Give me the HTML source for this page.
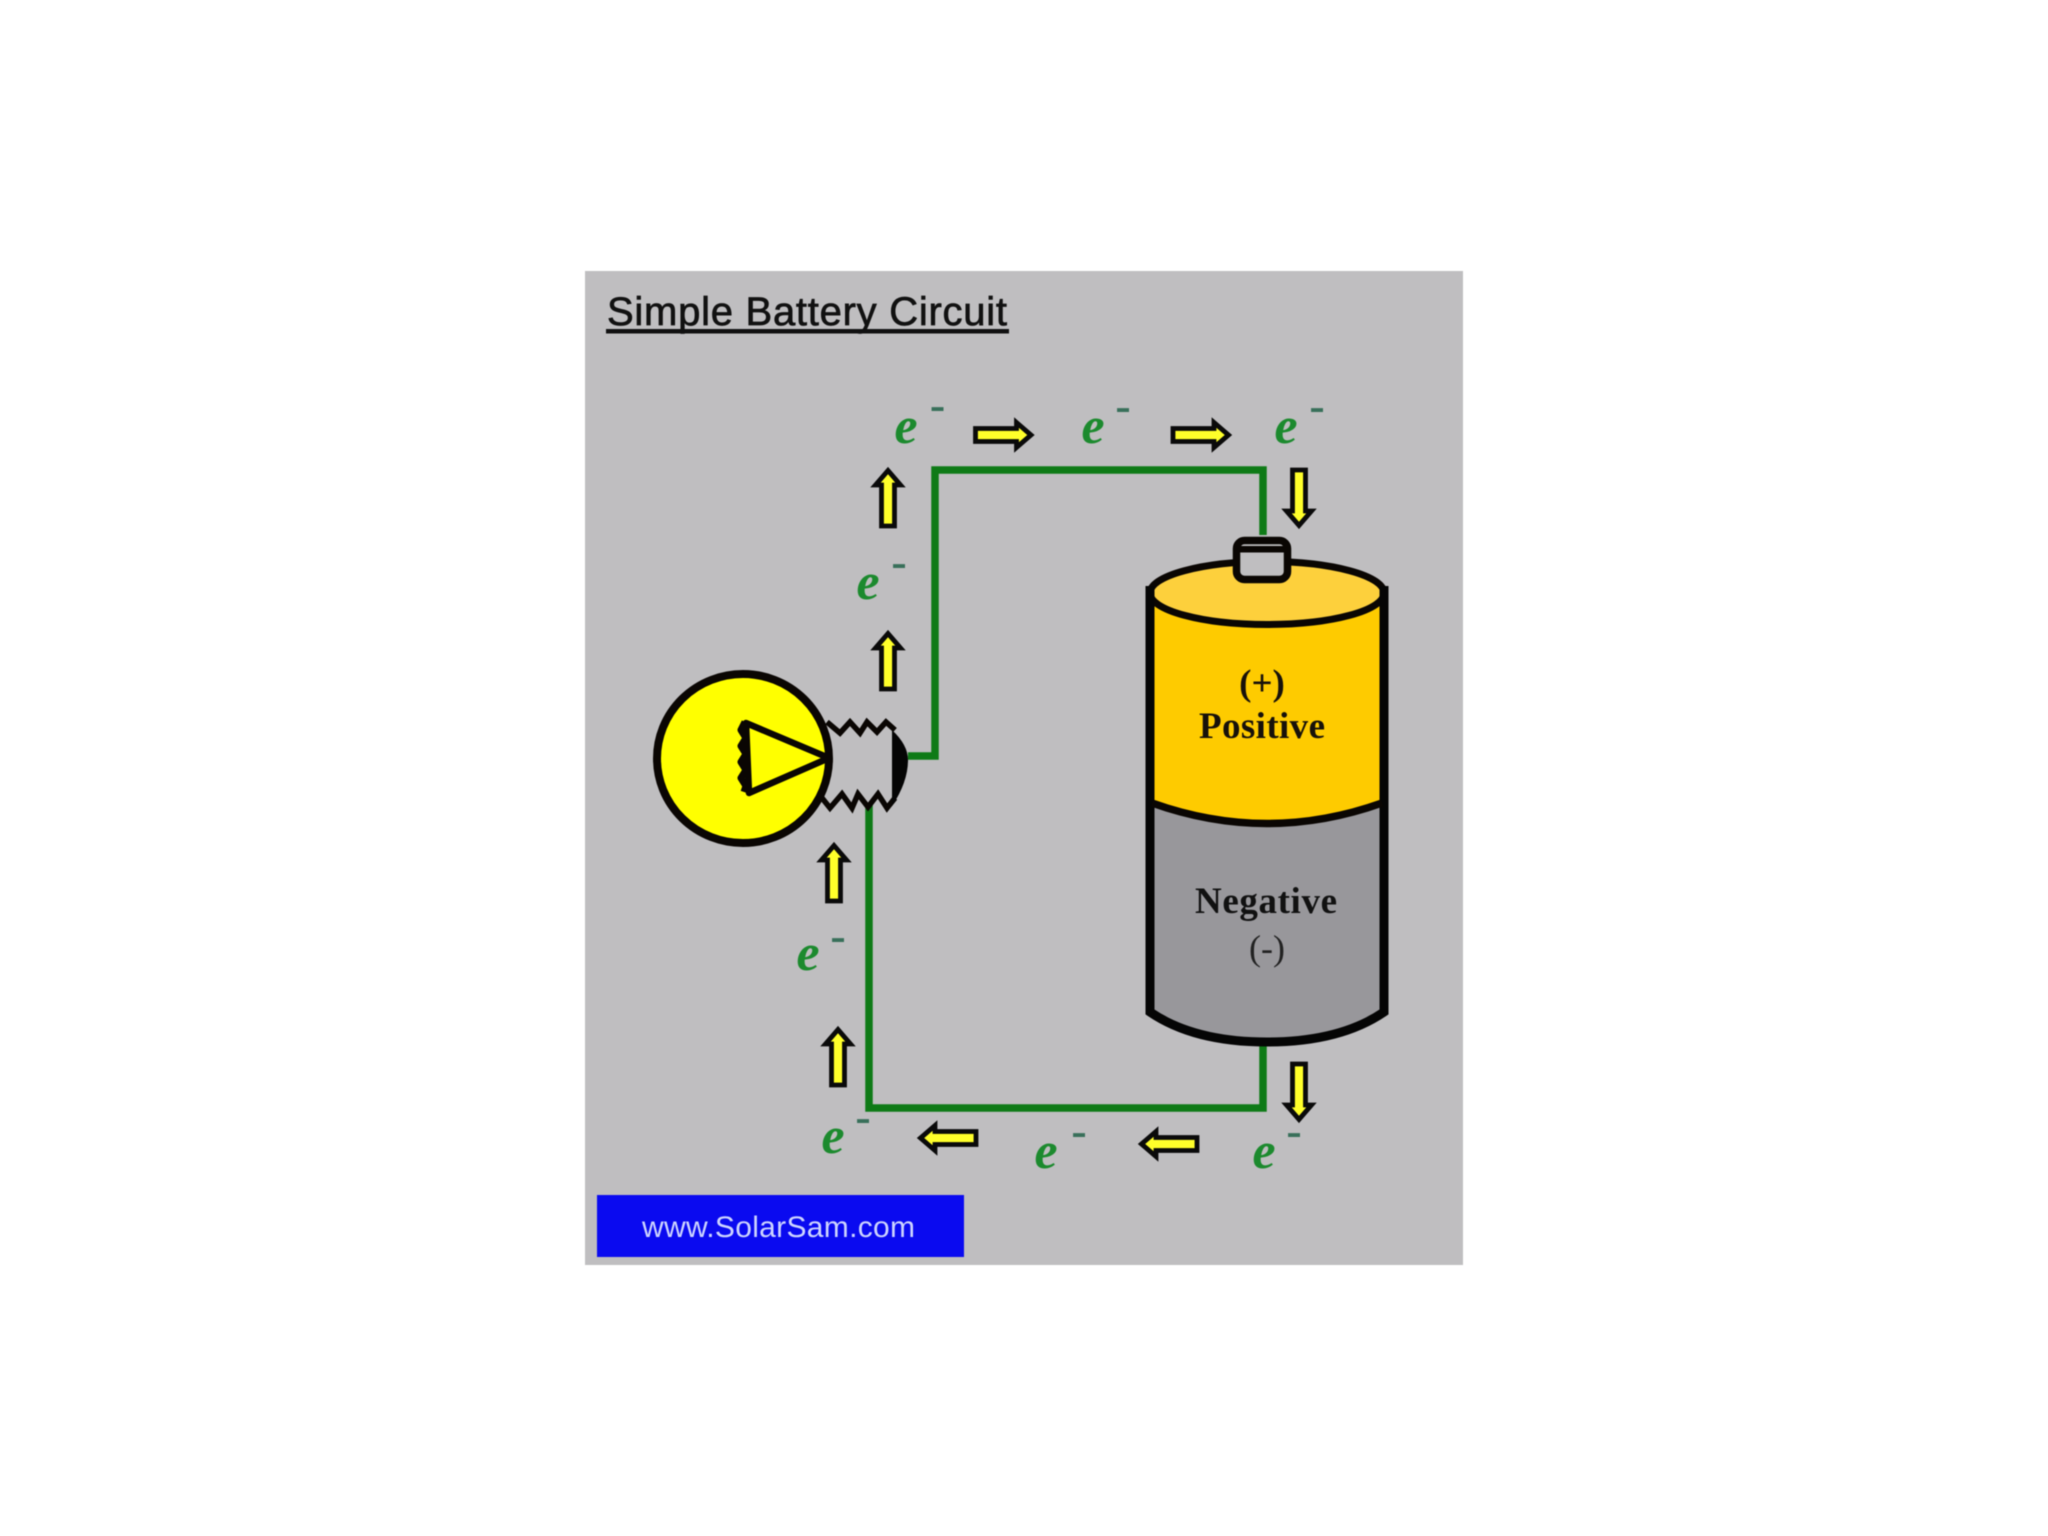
<!DOCTYPE html>
<html lang="en">
<head>
<meta charset="utf-8">
<title>Simple Battery Circuit</title>
<style>
html,body{margin:0;padding:0;background:#fff;width:2048px;height:1536px;overflow:hidden}
svg{display:block;filter:blur(.5px)}
.e{font:italic bold 52px "Liberation Serif",serif;fill:#1c8a2e}
.d{font:bold 46px "Liberation Serif",serif;fill:#38705a;text-anchor:middle}
.l{font-family:"Liberation Serif",serif;fill:#17110a;text-anchor:middle}
</style>
</head>
<body>
<svg width="2048" height="1536" viewBox="0 0 2048 1536" xmlns="http://www.w3.org/2000/svg">
<defs>
<polygon id="ar" points="-28,-6.5 13,-6.5 13,-12.5 27.5,0 13,12.5 13,6.5 -28,6.5" fill="#ffff2a" stroke="#0a0a0a" stroke-width="4.8" stroke-miterlimit="6"/>
</defs>
<rect width="2048" height="1536" fill="#fff"/>
<rect x="585" y="271" width="878" height="994" fill="#bfbec0"/>

<!-- Title -->
<text x="607" y="325" font-family="'Liberation Sans',sans-serif" font-size="40" fill="#111" stroke="#111" stroke-width=".7" textLength="400" lengthAdjust="spacing">Simple Battery Circuit</text>
<rect x="606" y="329" width="403" height="4.500" fill="#111"/>

<!-- Wires -->
<path d="M908 756H935V470H1263V535" fill="none" stroke="#0e7a16" stroke-width="7.500" stroke-linejoin="miter"/>
<path d="M1263 1043V1108H869V805" fill="none" stroke="#0e7a16" stroke-width="7.500"/>

<!-- Battery -->
<path d="M1150 592V803Q1267 846 1384 803V592Z" fill="#fecb00"/>
<path d="M1150 803Q1267 846 1384 803V1012Q1340 1042 1267 1042Q1194 1042 1150 1012Z" fill="#98979b"/>
<ellipse cx="1267" cy="593" rx="117" ry="31.500" fill="#fdd03c" stroke="#0a0603" stroke-width="7"/>
<path d="M1150 586V1012Q1194 1042 1267 1042Q1340 1042 1384 1012V586" fill="none" stroke="#050505" stroke-width="9"/>
<path d="M1152 803Q1267 844 1382 803" fill="none" stroke="#0a0603" stroke-width="7.500"/>
<rect x="1236.500" y="540.500" width="51" height="39" rx="8" fill="#bfbec0" stroke="#0a0603" stroke-width="7.500"/>
<rect x="1237" y="546" width="50" height="6.500" fill="#0a0603"/>

<text class="l" x="1262" y="695" font-size="37" font-weight="bold">(+)</text>
<text class="l" x="1262" y="738" font-size="37" font-weight="bold" textLength="126" lengthAdjust="spacing">Positive</text>
<text class="l" x="1266" y="913" font-size="37" font-weight="bold" textLength="142" lengthAdjust="spacing" style="fill:#111">Negative</text>
<text class="l" x="1267" y="960" font-size="36" style="fill:#222">(-)</text>

<!-- Bulb screw base -->
<polygon points="827,722 840,733 850,722 860,733 867,722 877,732 886,722 895,730 903,758 895,798 887,808 878,794 868,808 858,794 851,808 840,794 830,808 822,798" fill="#bfbec0"/>
<polyline points="827,722 840,733 850,722 860,733 867,722 877,732 886,722 895,730" fill="none" stroke="#0a0603" stroke-width="5.500"/>
<polyline points="822,798 830,808 842,794 852,808 858,794 868,807 878,794 887,808 895,798" fill="none" stroke="#0a0603" stroke-width="5.500"/>
<path d="M892 730Q908 745 908 760Q908 782 892 806Z" fill="#050505"/>

<!-- Bulb -->
<ellipse cx="743" cy="758.500" rx="86" ry="84.500" fill="#ffff00" stroke="#0a0603" stroke-width="8"/>
<polygon points="746,723 829,758 749,793" fill="none" stroke="#0a0603" stroke-width="6.500" stroke-linejoin="round"/>
<polyline points="745,722 741,730 746,738 741,746 746,754 741,762 746,770 741,778 746,786 744,792" fill="none" stroke="#0a0603" stroke-width="7" stroke-linejoin="round"/>

<!-- Arrows -->
<use href="#ar" transform="translate(1003.500 435)"/>
<use href="#ar" transform="translate(1201 435)"/>
<use href="#ar" transform="translate(1299 498) rotate(90)"/>
<use href="#ar" transform="translate(1299 1092) rotate(90)"/>
<use href="#ar" transform="translate(888 498) rotate(-90)"/>
<use href="#ar" transform="translate(888 661) rotate(-90)"/>
<use href="#ar" transform="translate(834 873) rotate(-90)"/>
<use href="#ar" transform="translate(838 1057) rotate(-90)"/>
<use href="#ar" transform="translate(948 1138) rotate(180)"/>
<use href="#ar" transform="translate(1169 1144) rotate(180)"/>

<!-- Electrons -->
<text class="e" x="894.500" y="443">e</text><text class="d" x="937.500" y="420">-</text>
<text class="e" x="1081.500" y="443">e</text><text class="d" x="1123" y="421">-</text>
<text class="e" x="1274.500" y="443">e</text><text class="d" x="1317" y="421">-</text>
<text class="e" x="856.500" y="599">e</text><text class="d" x="899" y="577">-</text>
<text class="e" x="796.500" y="970">e</text><text class="d" x="838" y="951">-</text>
<text class="e" x="821.500" y="1153">e</text><text class="d" x="863" y="1132">-</text>
<text class="e" x="1034.500" y="1168">e</text><text class="d" x="1079" y="1146">-</text>
<text class="e" x="1252.500" y="1168">e</text><text class="d" x="1294" y="1146">-</text>

<!-- Footer -->
<rect x="597" y="1195" width="367" height="62" fill="#0a0af0"/>
<text x="642" y="1237" font-family="'Liberation Sans',sans-serif" font-size="30" fill="#cdd4ff" textLength="273" lengthAdjust="spacing">www.SolarSam.com</text>
</svg>
</body>
</html>
